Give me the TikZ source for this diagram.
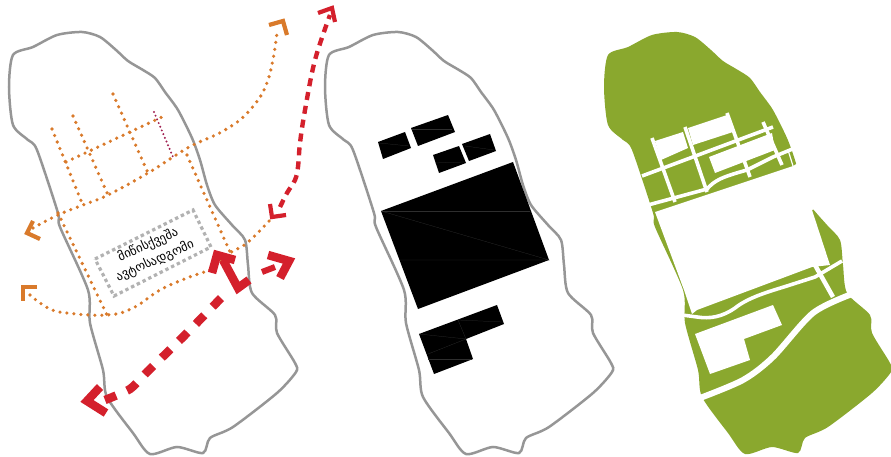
\documentclass[tikz,border=0pt]{standalone}
\usepackage{fontspec}
\newfontfamily\georgianfont{DejaVu Sans}
\definecolor{sitegray}{HTML}{969696}
\definecolor{walkorange}{HTML}{D97A2B}
\definecolor{carred}{HTML}{D4202C}
\definecolor{parkgreen}{HTML}{8AA82E}
\definecolor{lanepurple}{HTML}{A01F50}
\newcommand{\sitepoints}{
    (82,32) (100,37) (116,50) (128,61) (143,70) (155,78) (165,92) (178,110)
    (192,138) (200,160) (207,185) (215,205) (232,225) (245,240) (248,265)
    (252,293) (275,315) (277,333) (295,363) (296,372) (277,393) (233,427)
    (210,438) (203,453) (177,447) (150,454) (133,433) (107,397) (103,370)
    (90,323) (88,290) (60,227) (58,213) (37,150) (28,140) (13,125) (9,87)
    (13,55) (33,47) (57,35)
}
\begin{document}
\begin{tikzpicture}[
    x=1pt, y=-1pt,
    every node/.style={font=\small},
    siteline/.style={draw=sitegray, line width=2.5pt},
    walkline/.style={
        draw=walkorange,
        line width=3.6pt,
        line cap=round,
        dash pattern=on 0pt off 7pt
    },
    walkhead/.style={draw=walkorange, line width=4.2pt, miter limit=10},
    lanedots/.style={
        draw=lanepurple,
        line width=2.2pt,
        line cap=round,
        dash pattern=on 0pt off 4pt
    },
    carline/.style={draw=carred, line width=4.4pt, dash pattern=on 8pt off 6pt},
    carhead/.style={draw=carred, line width=4.2pt, miter limit=10},
    truckline/.style={draw=carred, line width=8.5pt, dash pattern=on 12pt off 12pt},
    truckhead/.style={draw=carred, line width=8.5pt, miter limit=10},
    parklabel/.style={
        rotate=24,
        inner sep=0pt,
        font=\georgianfont\fontsize{12.5}{13}\selectfont
    },
    building/.style={fill=black},
    seam/.style={draw=black!82, line width=0.25pt},
    road/.style={draw=white, line width=3.6pt},
    mainroad/.style={draw=white, line width=6pt},
    clearing/.style={fill=white}
]

    \useasboundingbox (0,0) rectangle (891,457);

    % Access plan
    \draw[siteline] plot[smooth cycle, tension=0.45] coordinates {\sitepoints};

    \draw[walkline] plot[smooth, tension=0.7] coordinates {
        (33,228) (58,215) (83,205) (108,195) (148,173) (173,157) (193,145)
        (225,130) (250,110) (268,80) (277,33)};
    \draw[walkline] plot[smooth, tension=0.7] coordinates {
        (30,295) (48,308) (67,313) (107,315) (133,308) (160,290) (187,278)
        (213,268) (230,253) (247,243) (270,220)};
    \draw[walkline] (52,129) -- (82,203);
    \draw[walkline] (73,116) -- (108,195);
    \draw[walkline] (113,94) -- (148,173);
    \draw[walkline] (66,162) -- (162,117);
    \draw[walkline] (187,155) -- (230,252);
    \draw[walkline] (58,213) -- (107,315);
    \draw[lanedots] (154,112) -- (173,157);

    \draw[walkhead] (269,25) -- (283,21) -- (287,35);
    \draw[walkhead] (40,239) -- (27,233) -- (33,221);
    \draw[walkhead] (37,287) -- (23,287) -- (23,301);

    \draw[draw=gray!60, line width=3.2pt, dash pattern=on 3.4pt off 3pt]
        (95,259) -- (193,210) -- (211,247) -- (114,296) -- cycle;
    \node[parklabel] (parkingtop) at (148,245) {მიწისქვეშა};
    \node[parklabel] (parkingbottom) at (155,261) {ავტოსადგომი};

    \draw[carline] plot[smooth, tension=0.6] coordinates {
        (280,207) (287,193) (295,180) (298,167) (300,143) (305,110) (315,60) (330,15)};
    \draw[carhead] (270,204) -- (272,217) -- (286,215);
    \draw[carhead] (318,13) -- (332,8) -- (335,22);

    \draw[truckline] plot[smooth, tension=0.4] coordinates {
        (105,400) (130,389) (148,371) (183,337) (225,294)};
    \draw[truckhead] (106,413) -- (87,401) -- (100,387);
    \draw[truckhead] (212,273) -- (217,255) -- (235,260);
    \draw[truckhead] (223,260) -- (238,288) -- (249,280);
    \draw[carred, line width=6pt] (262,272) -- (275,267);
    \draw[truckhead] (268,255) -- (289,261) -- (280,278);

    % Building plan
    \begin{scope}[shift={(316,0)}]
        \draw[siteline] plot[smooth cycle, tension=0.45] coordinates {\sitepoints};
    \end{scope}

    \fill[building] (378,142) -- (405,132) -- (411,148) -- (383,159) -- cycle;
    \fill[building] (411,128) -- (448,115) -- (455,132) -- (418,146) -- cycle;
    \fill[building] (433,155) -- (459,146) -- (466,163) -- (439,173) -- cycle;
    \fill[building] (462,144) -- (490,134) -- (496,151) -- (469,161) -- cycle;
    \fill[building] (381,211) -- (513,162) -- (549,260) -- (418,309) -- cycle;
    \fill[building] (419,334) -- (497,305) -- (504,324) -- (466,339)
        -- (473,359) -- (434,374) -- cycle;

    \draw[seam] (381,211) -- (530,211);
    \draw[seam] (381,211) -- (549,260) -- (400,260);
    \draw[seam] (379,143) -- (409,146);
    \draw[seam] (412,129) -- (452,129);
    \draw[seam] (435,163) -- (464,162);
    \draw[seam] (465,146) -- (494,150);
    \draw[seam] (419,334) -- (466,339) -- (428,354);
    \draw[seam] (458,320) -- (466,339);
    \draw[seam] (458,320) -- (503,322);
    \draw[seam] (428,359) -- (472,359);

    % Green plan
    \begin{scope}[shift={(595,0)}]
        \fill[parkgreen] plot[smooth cycle, tension=0.45] coordinates {\sitepoints};
    \end{scope}

    \fill[clearing] (655,212) -- (793,166) -- (820,150) -- (825,205) -- (812,210)
        -- (830,265) -- (812,267) -- (697,310) -- (692,314) -- (684,290) -- cycle;

    \fill[clearing] (655,141) -- (683,132) -- (688,148) -- (661,160) -- cycle;
    \fill[clearing] (688,128) -- (727,115) -- (733,132) -- (693,145) -- cycle;
    \fill[clearing] (709,157) -- (772,133) -- (775,150) -- (715,173) -- cycle;
    \fill[clearing] (695,334) -- (773,305) -- (782,325) -- (744,339)
        -- (750,360) -- (710,374) -- cycle;

    \draw[road] (642,176) -- (773,127);
    \draw[road] (652,138) -- (675,202);
    \draw[road] (685,127) -- (707,192);
    \draw[road] (727,113) -- (750,177);
    \draw[road] (763,122) -- (782,165);
    \draw[road] (648,205) -- (707,189) .. controls (715,180) and (722,177) .. (747,170)
        -- (773,157) -- (795,148);
    \draw[draw=white, line width=1.2pt] (788,150) -- (793,166);

    \draw[road] (682,315) -- (697,317) .. controls (710,319) and (722,317) .. (735,308)
        .. controls (750,296) and (775,290) .. (790,285) -- (815,277) -- (842,261);
    \draw[draw=white, line width=4.5pt] (815,265) -- (833,297);
    \draw[mainroad] plot[smooth, tension=0.5] coordinates {
        (700,398) (743,380) (773,357) (813,313) (852,294)};

\end{tikzpicture}
\end{document}
